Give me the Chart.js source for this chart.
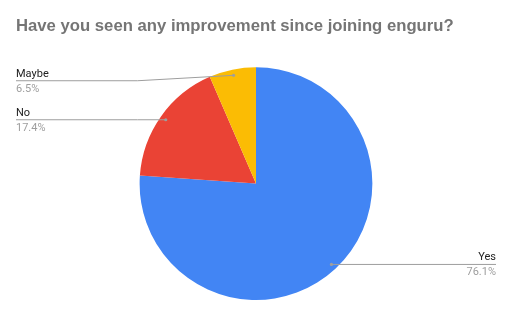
<!DOCTYPE html>
<html>
<head>
<meta charset="utf-8">
<script src="https://cdn.jsdelivr.net/npm/chart.js@4/dist/chart.umd.min.js"></script>
<style>
  html, body { margin: 0; padding: 0; background: #ffffff; }
  #wrap { width: 512px; height: 317px; }
</style>
</head>
<body>
<div id="wrap"><canvas id="c" width="512" height="317"></canvas></div>
<script>
const titleText = 'Have you seen any improvement since joining enguru?';
const categories = ['Yes', 'No', 'Maybe'];
const values = [76.1, 17.4, 6.5];
const percentLabels = ['76.1%', '17.4%', '6.5%'];
const sliceColors = ['#4285F4', '#EA4335', '#FBBC04'];

const leaderLabels = {
  id: 'leaderLabels',
  afterDatasetsDraw(chart) {
    const ctx = chart.ctx;
    const area = chart.chartArea;
    const meta = chart.getDatasetMeta(0);
    ctx.save();
    meta.data.forEach((arc, i) => {
      const p = arc.getProps(['x', 'y', 'startAngle', 'endAngle', 'outerRadius'], true);
      const mid = (p.startAngle + p.endAngle) / 2;
      const dotX = p.x + Math.cos(mid) * p.outerRadius * 0.95;
      const dotY = p.y + Math.sin(mid) * p.outerRadius * 0.95;
      const right = Math.cos(mid) >= 0;
      const lineY = Math.max(dotY, area.top + 13.5);
      ctx.strokeStyle = '#9e9e9e';
      ctx.fillStyle = '#9e9e9e';
      ctx.lineWidth = 1;
      ctx.beginPath();
      if (right) {
        ctx.moveTo(dotX, dotY);
        ctx.lineTo(area.right, lineY);
      } else {
        const elbowX = Math.min(dotX, p.x - p.outerRadius - 2);
        ctx.moveTo(area.left, lineY);
        ctx.lineTo(elbowX, lineY);
        ctx.lineTo(dotX, dotY);
      }
      ctx.stroke();
      ctx.beginPath();
      ctx.arc(dotX, dotY, 1.6, 0, Math.PI * 2);
      ctx.fill();

      ctx.textBaseline = 'alphabetic';
      ctx.textAlign = right ? 'right' : 'left';
      const tx = right ? area.right : area.left;
      ctx.font = '11px Roboto';
      ctx.fillStyle = '#222222';
      ctx.fillText(categories[i], tx, lineY - 4);
      ctx.fillStyle = '#9e9e9e';
      ctx.fillText(percentLabels[i], tx, lineY + 11);
    });
    ctx.restore();
  }
};

new Chart(document.getElementById('c'), {
  type: 'pie',
  data: {
    labels: categories,
    datasets: [{
      data: values,
      backgroundColor: sliceColors,
      borderWidth: 0,
      hoverOffset: 0
    }]
  },
  options: {
    responsive: false,
    animation: false,
    events: [],
    layout: { padding: { top: 0, left: 16, right: 16, bottom: 17 } },
    plugins: {
      legend: { display: false },
      tooltip: { enabled: false },
      title: {
        display: true,
        text: titleText,
        align: 'start',
        color: '#757575',
        font: { family: 'Liberation Sans, Arial, sans-serif', size: 16.7, weight: 'bold', lineHeight: 1.2 },
        padding: { top: 16.7, bottom: 30.5 }
      }
    }
  },
  plugins: [leaderLabels]
});
</script>
</body>
</html>
